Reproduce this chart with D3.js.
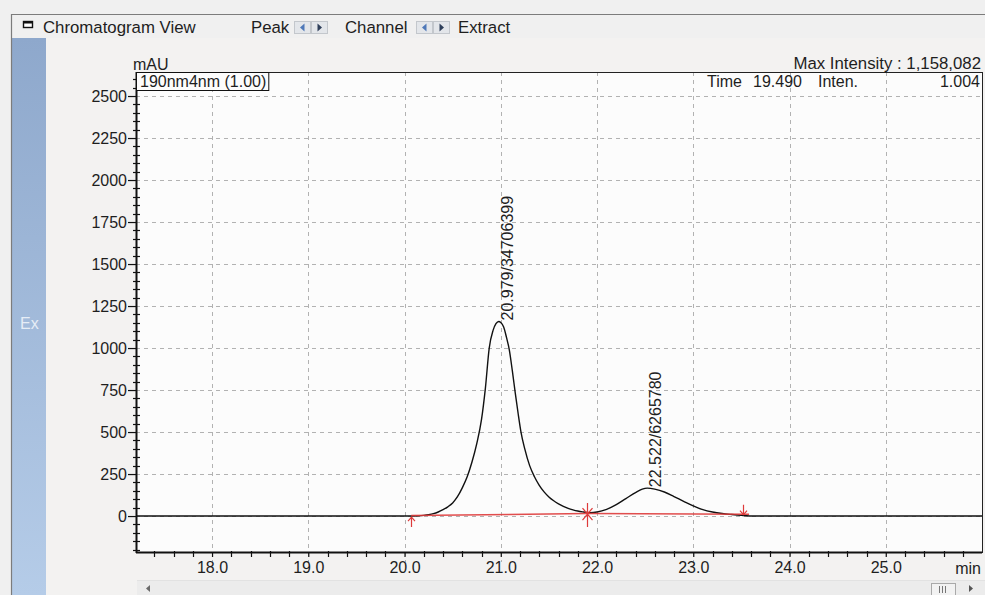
<!DOCTYPE html>
<html>
<head>
<meta charset="utf-8">
<script src="https://cdn.jsdelivr.net/npm/d3@7"></script>
<style>
  html, body { margin: 0; padding: 0; background: #f0f0f0; overflow: hidden; }
  svg { display: block; font-family: "Liberation Sans", Arial, sans-serif; }
</style>
</head>
<body>
<svg id="chart" width="985" height="595"></svg>
<script>
// ---- Chromatogram trace: retention time (min) and absorbance (mAU) ----
const traceTime = [17.21, 20.10, 20.20, 20.25, 20.30, 20.35, 20.40, 20.45, 20.50, 20.55,
  20.60, 20.65, 20.70, 20.75, 20.80, 20.84, 20.88, 20.92, 20.95, 20.979,
  21.00, 21.03, 21.06, 21.09, 21.12, 21.15, 21.18, 21.21, 21.25, 21.30,
  21.35, 21.40, 21.45, 21.50, 21.55, 21.60, 21.65, 21.70, 21.75, 21.80,
  21.85, 21.93, 22.00, 22.10, 22.20, 22.30, 22.40, 22.47, 22.522, 22.60,
  22.70, 22.80, 22.90, 23.00, 23.10, 23.20, 23.30, 23.40, 23.50, 23.63, 26.00];
const traceSignal = [0, 0, 4, 8, 14, 24, 38, 55, 78, 115,
  168, 232, 320, 430, 575, 760, 1000, 1105, 1145, 1158.082,
  1152, 1125, 1062, 985, 865, 735, 612, 500, 398, 300,
  234, 183, 144, 114, 91, 73, 58, 46, 37, 30,
  25, 20, 24, 40, 68, 104, 140, 160, 166, 160,
  143, 116, 88, 61, 38, 24, 15, 9, 4, 0, 0];

// ---- Integrated peaks ----
const peakTime = [20.979, 22.522];
const peakArea = [34706399, 6265780];
const peakHeight = [1158.082, 166];

// ---- Integration baseline and its markers ----
const baseTime = [20.07, 21.90, 23.58];
const baseSignal = [0, 12, 8];
const markerTime = [20.07, 21.90, 23.52];
const markerKind = ["start", "split", "end"];

// ---- Axes ----
const xTicks = [18, 19, 20, 21, 22, 23, 24, 25];
const yTicks = [0, 250, 500, 750, 1000, 1250, 1500, 1750, 2000, 2250, 2500];
const xDomain = [17.21, 26.0];
const yDomain = [-214, 2643];

// ---- Header texts ----
const channelLabel = "190nm4nm (1.00)";
const maxIntensityText = "Max Intensity : 1,158,082";
const cursorTime = "19.490";
const cursorInten = "1.004";

const W = 985, H = 595;
const plot = { left: 136, right: 982, top: 72, bottom: 552 };
const ink = "#1e1e1e";
const red = "#de3a3a";
const fsHead = 16.8, fsTick = 16, fsText = 16;

const svg = d3.select("#chart");
const defs = svg.append("defs");

// window background
svg.append("rect").attr("width", W).attr("height", H).attr("fill", "#f0f0f0");
// chart pane
svg.append("rect").attr("x", 46).attr("y", 38).attr("width", W - 46).attr("height", H - 38)
  .attr("fill", "#f3f2f1");

// side strip
const grad = defs.append("linearGradient").attr("id", "strip").attr("x1", 0).attr("y1", 0).attr("x2", 0).attr("y2", 1);
grad.append("stop").attr("offset", "0%").attr("stop-color", "#8ea8cc");
grad.append("stop").attr("offset", "100%").attr("stop-color", "#b5cce8");
svg.append("rect").attr("x", 12).attr("y", 38).attr("width", 34).attr("height", H - 38).attr("fill", "url(#strip)");
svg.append("text").attr("x", 20).attr("y", 329).attr("font-size", 16).attr("fill", "#e6edf6").text("Ex");

// pane frame
svg.append("path").attr("d", `M11.5,${H} V14.5 H${W}`).attr("fill", "none")
  .attr("stroke", "#7c7c7c").attr("stroke-width", 1.2);

// ---- header bar ----
const head = svg.append("g");
head.append("rect").attr("x", 23.5).attr("y", 21.5).attr("width", 9).attr("height", 6)
  .attr("fill", "#fff").attr("stroke", "#111").attr("stroke-width", 1.4);
head.append("rect").attr("x", 23).attr("y", 21).attr("width", 10).attr("height", 2.5).attr("fill", "#111");
head.append("text").attr("x", 43).attr("y", 33).attr("font-size", fsHead).attr("fill", ink).text("Chromatogram View");
head.append("text").attr("x", 251).attr("y", 33).attr("font-size", fsHead).attr("fill", ink).text("Peak");
head.append("text").attr("x", 345).attr("y", 33).attr("font-size", fsHead).attr("fill", ink).text("Channel");
head.append("text").attr("x", 458).attr("y", 33).attr("font-size", fsHead).attr("fill", ink).text("Extract");

function stepButtons(x0) {
  const g = head.append("g");
  [0, 1].forEach(i => {
    const bx = x0 + i * 17;
    g.append("rect").attr("x", bx + 0.5).attr("y", 21.5).attr("width", 16).attr("height", 12)
      .attr("fill", "#e3e6ea").attr("stroke", "#c3c7cc");
    const cx = bx + 8.5, cy = 27.5;
    const d = i === 0
      ? `M${cx + 2},${cy - 4} L${cx - 2.5},${cy} L${cx + 2},${cy + 4} Z`
      : `M${cx - 2},${cy - 4} L${cx + 2.5},${cy} L${cx - 2},${cy + 4} Z`;
    g.append("path").attr("d", d).attr("fill", i === 0 ? "#4f78b8" : "#2f3f5a");
  });
}
stepButtons(294);
stepButtons(416);

// ---- plot area ----
const x = d3.scaleLinear().domain(xDomain).range([plot.left, plot.right]);
const y = d3.scaleLinear().domain(yDomain).range([plot.bottom, plot.top]);
const px = v => Math.round(x(v)) + 0.5;
const py = v => Math.round(y(v)) + 0.5;

svg.append("rect").attr("x", plot.left).attr("y", plot.top)
  .attr("width", plot.right - plot.left).attr("height", plot.bottom - plot.top).attr("fill", "#fcfcfc");

// dashed grid
const grid = svg.append("g").attr("stroke", "#b2b2b2").attr("stroke-width", 1).attr("stroke-dasharray", "4,4");
grid.selectAll("line.h").data(yTicks).join("line").attr("class", "h")
  .attr("x1", plot.left).attr("x2", plot.right).attr("y1", d => py(d)).attr("y2", d => py(d));
grid.selectAll("line.v").data(xTicks).join("line").attr("class", "v")
  .attr("x1", d => px(d)).attr("x2", d => px(d)).attr("y1", plot.top).attr("y2", plot.bottom + 10);

// chromatogram trace
const trace = traceTime.map((t, i) => ({ t, v: traceSignal[i] }));
const line = d3.line().x(d => x(d.t)).y(d => y(d.v)).curve(d3.curveMonotoneX);
svg.append("path").datum(trace).attr("d", line).attr("fill", "none")
  .attr("stroke", "#111").attr("stroke-width", 1.4);

// integration baseline
const base = baseTime.map((t, i) => ({ t, v: baseSignal[i] }));
svg.append("path").datum(base).attr("d", d3.line().x(d => x(d.t)).y(d => y(d.v) - 0.5))
  .attr("fill", "none").attr("stroke", red).attr("stroke-width", 1.5).attr("opacity", 0.9);

// baseline markers
const baseAt = t => d3.scaleLinear().domain(baseTime).range(baseSignal)(t);
const mk = svg.append("g").attr("stroke", red).attr("stroke-width", 1.2).attr("fill", "none");
markerTime.forEach((t, i) => {
  const mx = Math.round(x(t)) + 0.5, my = y(baseAt(t));
  let d;
  if (markerKind[i] === "start") {
    d = `M${mx},${my + 1} V${my + 11} M${mx - 3.5},${my + 5} L${mx},${my + 1} L${mx + 3.5},${my + 5}`;
  } else if (markerKind[i] === "split") {
    d = `M${mx},${my - 11} V${my + 13} M${mx - 5},${my - 6} L${mx + 5},${my + 6} M${mx + 5},${my - 6} L${mx - 5},${my + 6}`;
  } else {
    d = `M${mx},${my - 10} V${my} M${mx - 3.5},${my - 4} L${mx},${my} L${mx + 3.5},${my - 4}`;
  }
  mk.append("path").attr("d", d);
});

// peak labels (retention time / area)
svg.append("g").selectAll("text").data(peakTime).join("text")
  .attr("transform", (t, i) => `translate(${x(t) + 14},${y(peakHeight[i]) - 1}) rotate(-90)`)
  .attr("font-size", fsText).attr("fill", ink)
  .text((t, i) => `${t.toFixed(3)}/${peakArea[i]}`);

// frame
svg.append("rect").attr("x", plot.left + 0.5).attr("y", plot.top + 0.5)
  .attr("width", plot.right - plot.left).attr("height", plot.bottom - plot.top)
  .attr("fill", "none").attr("stroke", "#222").attr("stroke-width", 1);
svg.append("line").attr("x1", plot.left + 0.5).attr("x2", plot.left + 0.5)
  .attr("y1", plot.top).attr("y2", plot.bottom + 1).attr("stroke", "#111").attr("stroke-width", 2);
svg.append("line").attr("x1", plot.left).attr("x2", plot.right)
  .attr("y1", plot.bottom + 0.5).attr("y2", plot.bottom + 0.5).attr("stroke", "#111").attr("stroke-width", 2);

// y axis
const yMinor = d3.range(-200, yDomain[1], 50).filter(v => v % 250 !== 0);
svg.append("g").selectAll("line").data(yMinor).join("line")
  .attr("x1", plot.left - 3).attr("x2", plot.left + 4)
  .attr("y1", d => py(d)).attr("y2", d => py(d)).attr("stroke", "#111").attr("stroke-width", 1.2);
const yAxis = svg.append("g").attr("transform", `translate(${plot.left},0)`)
  .call(d3.axisLeft(y).tickValues(yTicks).tickSize(8).tickPadding(1).tickFormat(d3.format("d")));
yAxis.select(".domain").remove();
yAxis.selectAll(".tick line").attr("stroke", "#111").attr("stroke-width", 1.2);
yAxis.selectAll(".tick text").attr("font-size", fsTick).attr("fill", ink)
  .attr("font-family", "Liberation Sans, Arial, sans-serif");

// x axis
const xMinor = d3.range(17.4, 26.001, 0.2).filter(v => Math.abs(v - Math.round(v)) > 0.01);
svg.append("g").selectAll("line").data(xMinor).join("line")
  .attr("x1", d => px(d)).attr("x2", d => px(d))
  .attr("y1", plot.bottom - 1).attr("y2", plot.bottom + 5).attr("stroke", "#111").attr("stroke-width", 1.2);
const xAxis = svg.append("g").attr("transform", `translate(0,${plot.bottom})`)
  .call(d3.axisBottom(x).tickValues(xTicks).tickSize(5).tickPadding(5).tickFormat(d3.format(".1f")));
xAxis.select(".domain").remove();
xAxis.selectAll(".tick line").attr("stroke", "#111").attr("stroke-width", 1.2);
xAxis.selectAll(".tick text").attr("font-size", fsTick).attr("fill", ink)
  .attr("font-family", "Liberation Sans, Arial, sans-serif");
svg.append("text").attr("x", 981).attr("y", 574).attr("text-anchor", "end")
  .attr("font-size", fsTick).attr("fill", ink).text("min");

// unit and channel box
svg.append("text").attr("x", 133).attr("y", 70).attr("font-size", fsText).attr("fill", ink).text("mAU");
const chBox = svg.append("g");
const chText = chBox.append("text").attr("x", 140).attr("y", 87).attr("font-size", fsText).attr("fill", ink).text(channelLabel);
const bb = chText.node().getBBox();
chBox.insert("rect", "text").attr("x", 136.5).attr("y", plot.top + 0.5)
  .attr("width", bb.width + 6).attr("height", 18).attr("fill", "#fcfcfc").attr("stroke", "#111");

// intensity readouts
svg.append("text").attr("x", 981).attr("y", 69).attr("text-anchor", "end")
  .attr("font-size", fsHead).attr("fill", ink).text(maxIntensityText);
const ro = svg.append("g").attr("font-size", fsText).attr("fill", ink);
ro.append("text").attr("x", 707).attr("y", 87).text("Time");
ro.append("text").attr("x", 753).attr("y", 87).text(cursorTime);
ro.append("text").attr("x", 818).attr("y", 87).text("Inten.");
ro.append("text").attr("x", 980).attr("y", 87).attr("text-anchor", "end").text(cursorInten);

// horizontal scroll bar
const sb = svg.append("g");
sb.append("rect").attr("x", 137).attr("y", 581).attr("width", W - 137).attr("height", 14).attr("fill", "#ececec");
sb.append("line").attr("x1", 137).attr("x2", W).attr("y1", 580.5).attr("y2", 580.5).attr("stroke", "#e2e2e2");
sb.append("path").attr("d", "M150,585 L146,588.5 L150,592 Z").attr("fill", "#6a6a6a");
sb.append("rect").attr("x", 931.5).attr("y", 583.5).attr("width", 24).attr("height", 12)
  .attr("fill", "#f2f2f2").attr("stroke", "#a9a9a9");
[939.5, 942.5, 945.5].forEach(gx => sb.append("line").attr("x1", gx).attr("x2", gx)
  .attr("y1", 586).attr("y2", 593).attr("stroke", "#777"));
sb.append("path").attr("d", "M969,585 L973,588.5 L969,592 Z").attr("fill", "#555");
</script>
</body>
</html>
